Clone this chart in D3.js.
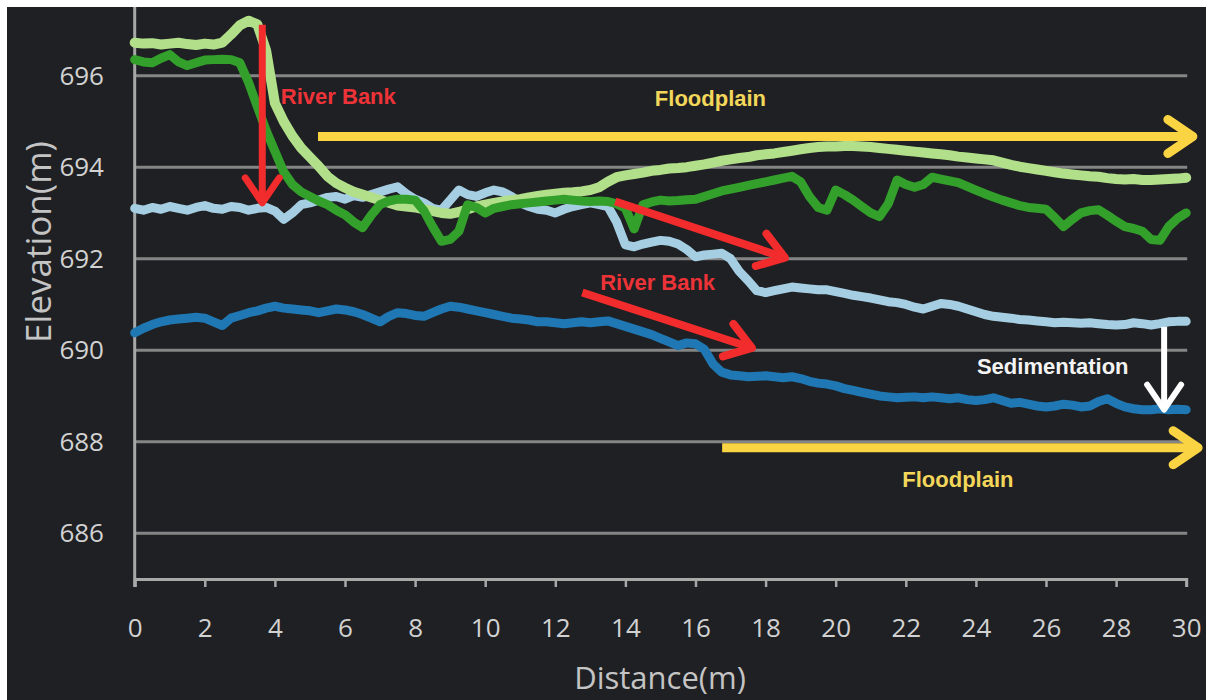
<!DOCTYPE html>
<html>
<head>
<meta charset="utf-8">
<script src="https://cdn.jsdelivr.net/npm/d3@7"></script>
<style>
  html, body { margin: 0; padding: 0; background: #fff; }
  svg { display: block; }
</style>
</head>
<body>
<div id="chart"></div>
<script>
// Sample positions along the transect (m)
const distances = d3.range(0, 30.001, 0.25);

// Elevation profiles (m), every 0.25 m
const lightGreen = [
  696.72, 696.70, 696.71, 696.68, 696.70, 696.72, 696.69, 696.67, 696.70, 696.68,
  696.72, 696.90, 697.10, 697.20, 697.12, 696.55, 695.40, 695.00, 694.68, 694.42,
  694.22, 694.02, 693.80, 693.65, 693.55, 693.46, 693.40, 693.34, 693.28, 693.22,
  693.16, 693.14, 693.12, 693.08, 693.04, 693.00, 692.98, 693.02, 693.08, 693.14,
  693.18, 693.22, 693.25, 693.28, 693.30, 693.34, 693.37, 693.40, 693.42, 693.44,
  693.45, 693.47, 693.50, 693.56, 693.68, 693.78, 693.82, 693.85, 693.88, 693.92,
  693.94, 693.97, 693.98, 694.00, 694.03, 694.06, 694.10, 694.14, 694.17, 694.20,
  694.22, 694.26, 694.28, 694.30, 694.33, 694.36, 694.39, 694.42, 694.44, 694.45,
  694.45, 694.46, 694.46, 694.45, 694.44, 694.42, 694.40, 694.38, 694.36, 694.34,
  694.32, 694.30, 694.28, 694.26, 694.23, 694.21, 694.19, 694.17, 694.15, 694.10,
  694.05, 694.01, 693.98, 693.95, 693.92, 693.89, 693.86, 693.84, 693.82, 693.80,
  693.79, 693.76, 693.74, 693.73, 693.74, 693.72, 693.72, 693.73, 693.74, 693.75,
  693.77
];

const darkGreen = [
  696.35, 696.30, 696.28, 696.38, 696.46, 696.30, 696.22, 696.28, 696.34, 696.35,
  696.36, 696.35, 696.28, 695.85, 695.32, 694.80, 694.35, 693.90, 693.62, 693.46,
  693.36, 693.26, 693.18, 693.06, 692.96, 692.80, 692.68, 692.95, 693.18, 693.26,
  693.30, 693.30, 693.28, 693.05, 692.70, 692.38, 692.42, 692.60, 693.18, 693.12,
  693.00, 693.10, 693.14, 693.18, 693.20, 693.22, 693.24, 693.26, 693.28, 693.30,
  693.28, 693.26, 693.25, 693.26, 693.25, 693.20, 693.10, 692.65, 693.18, 693.24,
  693.28, 693.26, 693.27, 693.29, 693.30, 693.36, 693.42, 693.48, 693.52, 693.56,
  693.60, 693.64, 693.68, 693.72, 693.76, 693.80, 693.68, 693.36, 693.12, 693.06,
  693.50, 693.40, 693.28, 693.14, 693.00, 692.92, 693.20, 693.72, 693.62, 693.56,
  693.62, 693.78, 693.74, 693.70, 693.66, 693.58, 693.50, 693.42, 693.35, 693.28,
  693.22, 693.16, 693.12, 693.10, 693.08, 692.90, 692.70, 692.86, 693.00, 693.05,
  693.07, 692.95, 692.82, 692.70, 692.66, 692.60, 692.42, 692.40, 692.70, 692.88,
  693.00
];

const lightBlue = [
  693.10, 693.06, 693.12, 693.08, 693.14, 693.10, 693.06, 693.12, 693.16, 693.10,
  693.08, 693.14, 693.12, 693.06, 693.10, 693.12, 693.04, 692.86, 693.00, 693.18,
  693.22, 693.28, 693.34, 693.36, 693.30, 693.38, 693.34, 693.40, 693.46, 693.52,
  693.57, 693.42, 693.30, 693.22, 693.10, 693.06, 693.28, 693.50, 693.40, 693.36,
  693.44, 693.50, 693.46, 693.36, 693.22, 693.14, 693.08, 693.06, 693.00, 693.08,
  693.14, 693.18, 693.22, 693.18, 693.14, 692.80, 692.30, 692.26, 692.32, 692.36,
  692.40, 692.38, 692.32, 692.20, 692.04, 692.08, 692.10, 692.12, 692.00, 691.72,
  691.52, 691.30, 691.26, 691.30, 691.34, 691.38, 691.36, 691.34, 691.32, 691.32,
  691.28, 691.24, 691.20, 691.17, 691.14, 691.10, 691.06, 691.04, 691.00, 690.94,
  690.90, 690.96, 691.02, 691.00, 690.96, 690.90, 690.84, 690.78, 690.74, 690.72,
  690.70, 690.67, 690.66, 690.64, 690.62, 690.60, 690.61, 690.60, 690.59, 690.60,
  690.58, 690.56, 690.55, 690.56, 690.60, 690.58, 690.55, 690.58, 690.62, 690.63,
  690.63
];

const blue = [
  690.38, 690.48, 690.56, 690.62, 690.66, 690.68, 690.70, 690.72, 690.70, 690.62,
  690.54, 690.70, 690.76, 690.82, 690.86, 690.92, 690.96, 690.92, 690.90, 690.88,
  690.86, 690.82, 690.86, 690.90, 690.88, 690.84, 690.78, 690.70, 690.62, 690.74,
  690.82, 690.80, 690.76, 690.74, 690.82, 690.90, 690.96, 690.94, 690.90, 690.86,
  690.82, 690.78, 690.74, 690.70, 690.68, 690.66, 690.62, 690.62, 690.60, 690.58,
  690.60, 690.62, 690.60, 690.62, 690.64, 690.58, 690.52, 690.46, 690.40, 690.34,
  690.26, 690.18, 690.10, 690.16, 690.14, 690.02, 689.70, 689.52, 689.46, 689.44,
  689.42, 689.43, 689.44, 689.42, 689.40, 689.42, 689.38, 689.32, 689.28, 689.26,
  689.22, 689.16, 689.12, 689.08, 689.04, 689.00, 688.98, 688.96, 688.97, 688.98,
  688.96, 688.98, 688.96, 688.94, 688.96, 688.92, 688.90, 688.92, 688.96, 688.90,
  688.84, 688.86, 688.82, 688.78, 688.76, 688.78, 688.82, 688.80, 688.76, 688.78,
  688.88, 688.94, 688.84, 688.76, 688.72, 688.70, 688.70, 688.72, 688.70, 688.71,
  688.70
];

const xTicks = [0, 2, 4, 6, 8, 10, 12, 14, 16, 18, 20, 22, 24, 26, 28, 30];
const yTicks = [686, 688, 690, 692, 694, 696];

// Annotation arrows [x, y] in data units, and labels
const arrows = [
  { from: [3.64, 697.11], to: [3.64, 693.22], color: "#f22c2c", width: 7 },
  { from: [5.23, 694.67], to: [30.19, 694.67], color: "#fbd444", width: 9 },
  { from: [13.71, 693.25], to: [18.55, 692.02], color: "#f22c2c", width: 8 },
  { from: [12.77, 691.26], to: [17.61, 690.05], color: "#f22c2c", width: 8 },
  { from: [29.37, 690.51], to: [29.37, 688.70], color: "#ffffff", width: 6 },
  { from: [16.76, 687.87], to: [30.34, 687.87], color: "#fbd444", width: 9 }
];
const notes = [
  { text: "River Bank", at: [4.17, 695.39], color: "#ee3338" },
  { text: "Floodplain", at: [14.84, 695.34], color: "#f3d75a" },
  { text: "River Bank", at: [13.28, 691.32], color: "#ee3338" },
  { text: "Sedimentation", at: [24.03, 689.49], color: "#f4f4f4" },
  { text: "Floodplain", at: [21.9, 687.0], color: "#f3d75a" }
];

const W = 1206, H = 700;

const svg = d3.select("#chart").append("svg")
  .attr("width", W)
  .attr("height", H);

// Dark panel (white strip on top and left like the screenshot)
svg.append("rect").attr("width", W).attr("height", H).attr("fill", "#ffffff");
svg.append("rect").attr("x", 7).attr("y", 7).attr("width", W - 7).attr("height", H - 7).attr("fill", "#1f2023");

const x = d3.scaleLinear().domain([0, 30]).range([134.7, 1186.2]);
const y = d3.scaleLinear().domain([685, 697.5]).range([579, 7]);

const tickFont = "'Open Sans', 'Noto Sans', sans-serif";

// Gridlines
svg.append("g")
  .selectAll("line")
  .data(yTicks)
  .enter().append("line")
  .attr("x1", x(0))
  .attr("x2", x(30) + 1)
  .attr("y1", d => y(d))
  .attr("y2", d => y(d))
  .attr("stroke", "#858585")
  .attr("stroke-width", 3);

// Y tick labels
svg.append("g")
  .selectAll("text")
  .data(yTicks)
  .enter().append("text")
  .attr("x", 104)
  .attr("y", d => y(d))
  .attr("dy", "0.35em")
  .attr("text-anchor", "end")
  .attr("font-family", tickFont)
  .attr("font-size", "26px")
  .attr("fill", "#d2d2d2")
  .text(d => d);

// X axis
const xAxis = svg.append("g")
  .attr("transform", `translate(0,${y(685)})`)
  .call(d3.axisBottom(x).tickValues(xTicks).tickSize(8).tickPadding(41).tickFormat(d3.format("d")));
xAxis.select(".domain").attr("stroke", "#a8a8a8").attr("stroke-width", 3);
xAxis.selectAll(".tick line").attr("stroke", "#a8a8a8").attr("stroke-width", 2.5);
xAxis.selectAll(".tick text")
  .attr("dy", "0.35em")
  .attr("font-family", tickFont)
  .attr("font-size", "26px")
  .attr("fill", "#d2d2d2");

// Y axis line
svg.append("line")
  .attr("x1", x(0)).attr("x2", x(0))
  .attr("y1", 7).attr("y2", y(685) + 8)
  .attr("stroke", "#a8a8a8")
  .attr("stroke-width", 3);

// Axis titles
svg.append("text")
  .attr("x", 660)
  .attr("y", 689)
  .attr("text-anchor", "middle")
  .attr("font-family", tickFont)
  .attr("font-size", "31px")
  .attr("fill", "#c4c4c4")
  .text("Distance(m)");

svg.append("text")
  .attr("transform", "translate(51,242) rotate(-90)")
  .attr("text-anchor", "middle")
  .attr("font-family", tickFont)
  .attr("font-size", "35px")
  .attr("fill", "#c4c4c4")
  .text("Elevation(m)");

// Profiles
const series = [
  { name: "blue", values: blue, color: "#1f78b4", width: 9 },
  { name: "lightBlue", values: lightBlue, color: "#a6cee3", width: 9 },
  { name: "lightGreen", values: lightGreen, color: "#b2df8a", width: 10 },
  { name: "darkGreen", values: darkGreen, color: "#33a02c", width: 9 }
];

const line = d3.line()
  .x((d, i) => x(distances[i]))
  .y(d => y(d));

svg.append("g")
  .selectAll("path")
  .data(series)
  .enter().append("path")
  .attr("d", d => line(d.values))
  .attr("fill", "none")
  .attr("stroke", d => d.color)
  .attr("stroke-width", d => d.width)
  .attr("stroke-linejoin", "round")
  .attr("stroke-linecap", "round");

// Arrows with open chevron heads
const arrowG = svg.append("g");
arrows.forEach(a => {
  const x0 = x(a.from[0]), y0 = y(a.from[1]);
  const x1 = x(a.to[0]), y1 = y(a.to[1]);
  const len = Math.hypot(x1 - x0, y1 - y0);
  const ux = (x1 - x0) / len, uy = (y1 - y0) / len;
  const back = 25, half = 17;
  const p1 = [x1 - ux * back - uy * half, y1 - uy * back + ux * half];
  const p2 = [x1 - ux * back + uy * half, y1 - uy * back - ux * half];

  arrowG.append("line")
    .attr("x1", x0).attr("y1", y0)
    .attr("x2", x1 - ux * 3).attr("y2", y1 - uy * 3)
    .attr("stroke", a.color)
    .attr("stroke-width", a.width);

  arrowG.append("path")
    .attr("d", `M${p1[0]},${p1[1]}L${x1},${y1}L${p2[0]},${p2[1]}`)
    .attr("fill", "none")
    .attr("stroke", a.color)
    .attr("stroke-width", a.width)
    .attr("stroke-linejoin", "round")
    .attr("stroke-linecap", "round");
});

// Labels
svg.append("g")
  .selectAll("text")
  .data(notes)
  .enter().append("text")
  .attr("x", d => x(d.at[0]))
  .attr("y", d => y(d.at[1]))
  .attr("font-family", "'Liberation Sans', Arial, sans-serif")
  .attr("font-weight", "bold")
  .attr("font-size", "22px")
  .attr("fill", d => d.color)
  .text(d => d.text);
</script>
</body>
</html>
